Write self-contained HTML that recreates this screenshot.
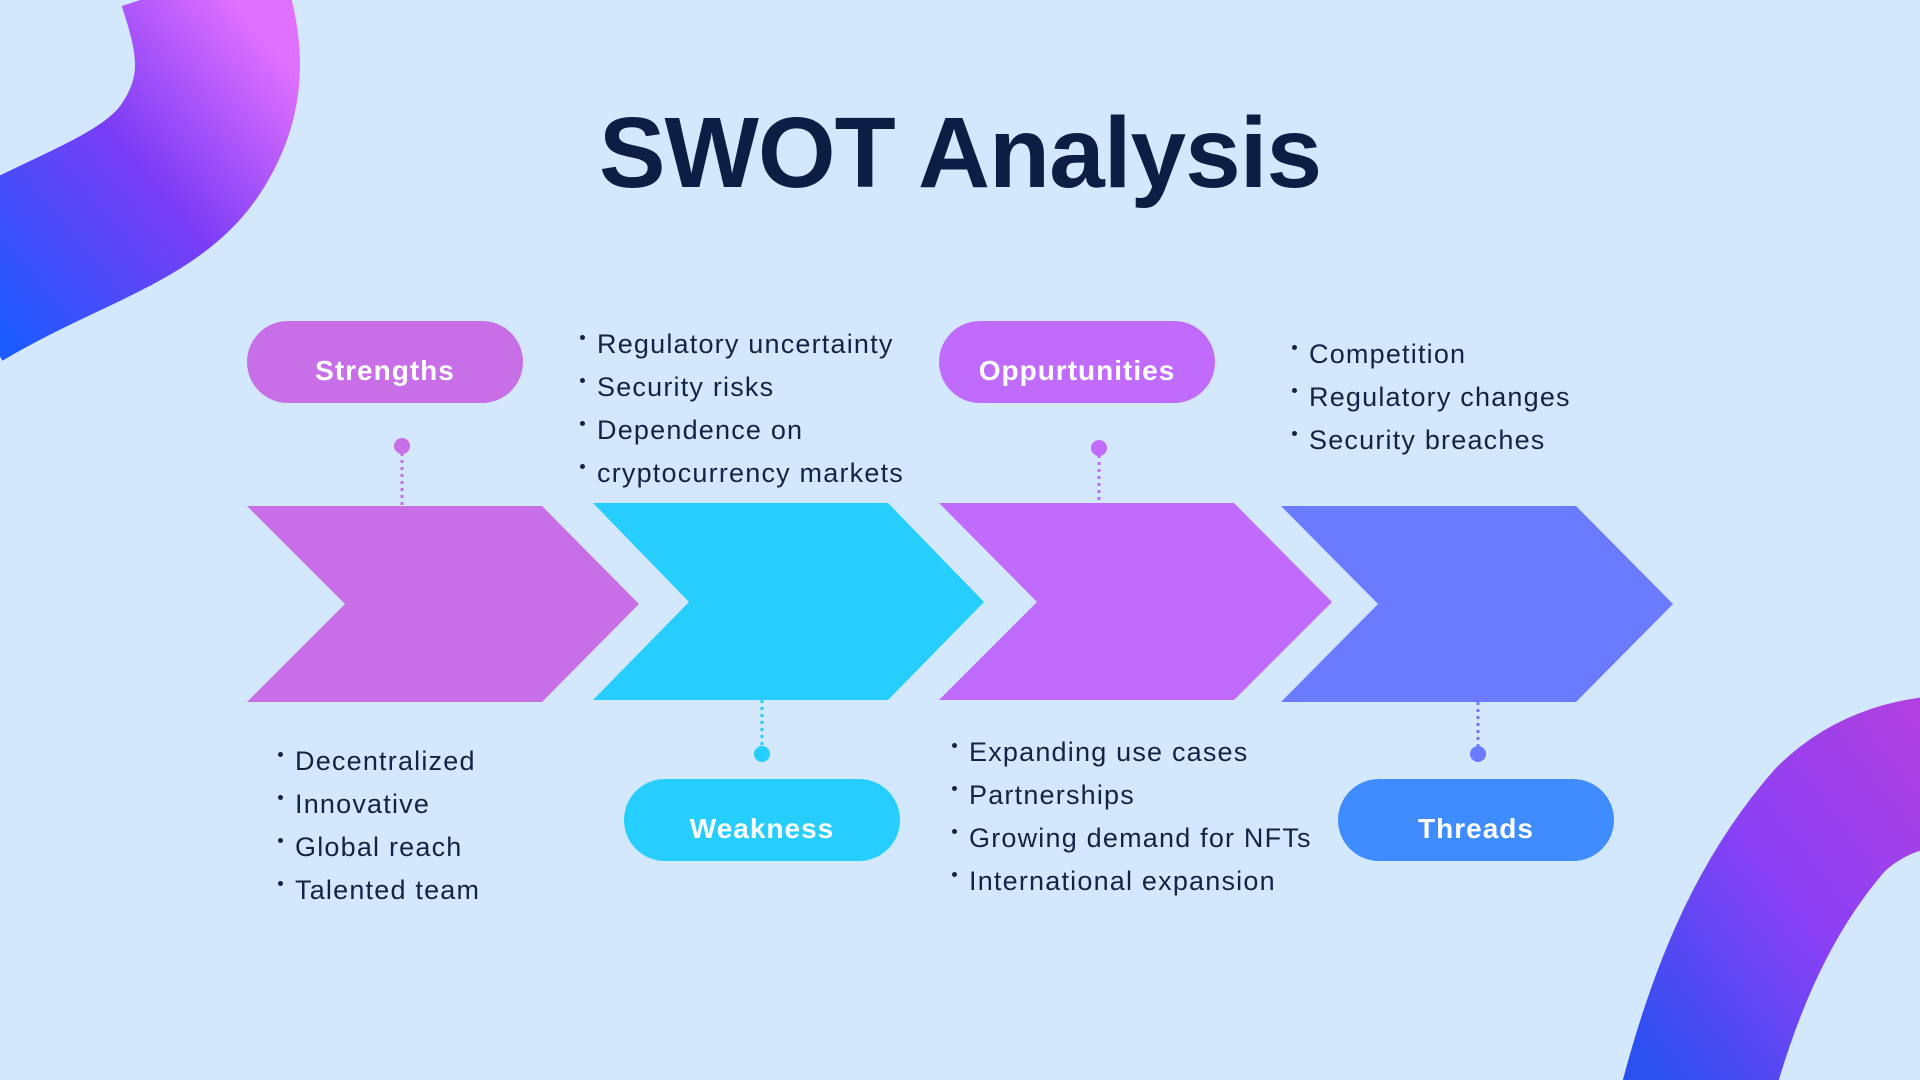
<!DOCTYPE html>
<html><head><meta charset="utf-8"><style>
body{margin:0;width:1920px;height:1080px;overflow:hidden;background:#d4e8fd;font-family:"Liberation Sans",sans-serif;position:relative}
.t{position:absolute;left:0;width:1920px;text-align:center;top:96px;font-size:100px;font-weight:bold;color:#0b1f45;letter-spacing:-1px}
.pill{position:absolute;width:276px;height:82px;border-radius:41px;color:#fff;font-weight:bold;font-size:28px;text-align:center;line-height:100px;letter-spacing:1px}
ul{position:absolute;margin:0;padding:0;list-style:none;font-size:27px;color:#142244;letter-spacing:1.2px}
li{height:43px;line-height:43px;position:relative;white-space:nowrap}
li:before{content:"";position:absolute;left:-17px;top:12px;width:5px;height:5px;border-radius:50%;background:#142244}
</style></head><body>
<svg width="1920" height="1080" style="position:absolute;left:0;top:0">
<defs>
<linearGradient id="g1" x1="0" y1="1" x2="1" y2="0"><stop offset="0" stop-color="#1a5cff"/><stop offset=".55" stop-color="#7a3cf5"/><stop offset="1" stop-color="#e070ff"/></linearGradient>
<linearGradient id="g2" x1="0" y1="1" x2="1" y2="0"><stop offset="0" stop-color="#2a50f0"/><stop offset=".5" stop-color="#8a40f5"/><stop offset="1" stop-color="#b040e0"/></linearGradient>
</defs>
<path d="M-40,290 C60,230 150,210 190,150 C230,90 220,40 200,-20" fill="none" stroke="url(#g1)" stroke-width="165" stroke-linecap="butt"/>
<path d="M1690,1120 C1720,1000 1760,900 1830,820 C1870,780 1920,770 1960,770" fill="none" stroke="url(#g2)" stroke-width="150"/>
<polygon points="247,506 542,506 639,604 542,702 247,702 345,604" fill="#c86ee6"/>
<polygon points="593,503 888,503 984,602 888,700 593,700 689,602" fill="#25cefc"/>
<polygon points="939,503 1234,503 1332,602 1234,700 939,700 1037,602" fill="#c06bfc"/>
<polygon points="1281,506 1576,506 1673,604 1576,702 1281,702 1378,604" fill="#6b7bff"/>
<g stroke-width="3" stroke-dasharray="3,4">
<line x1="402" y1="446" x2="402" y2="506" stroke="#c86ee6"/>
<line x1="1099" y1="448" x2="1099" y2="503" stroke="#c06bfc"/>
<line x1="762" y1="700" x2="762" y2="754" stroke="#25cefc"/>
<line x1="1478" y1="702" x2="1478" y2="754" stroke="#6b7bff"/>
</g>
<circle cx="402" cy="446" r="8" fill="#c86ee6"/>
<circle cx="1099" cy="448" r="8" fill="#c06bfc"/>
<circle cx="762" cy="754" r="8" fill="#25cefc"/>
<circle cx="1478" cy="754" r="8" fill="#6b7bff"/>
</svg>
<div class="t">SWOT Analysis</div>
<div class="pill" style="left:247px;top:321px;background:#c86ee6">Strengths</div>
<div class="pill" style="left:939px;top:321px;background:#c06bfc">Oppurtunities</div>
<div class="pill" style="left:624px;top:779px;background:#25cefc">Weakness</div>
<div class="pill" style="left:1338px;top:779px;background:#3f8cff">Threads</div>
<ul style="left:597px;top:323px"><li>Regulatory uncertainty</li><li>Security risks</li><li>Dependence on</li><li>cryptocurrency markets</li></ul>
<ul style="left:1309px;top:333px"><li>Competition</li><li>Regulatory changes</li><li>Security breaches</li></ul>
<ul style="left:295px;top:740px"><li>Decentralized</li><li>Innovative</li><li>Global reach</li><li>Talented team</li></ul>
<ul style="left:969px;top:731px"><li>Expanding use cases</li><li>Partnerships</li><li>Growing demand for NFTs</li><li>International expansion</li></ul>
</body></html>
